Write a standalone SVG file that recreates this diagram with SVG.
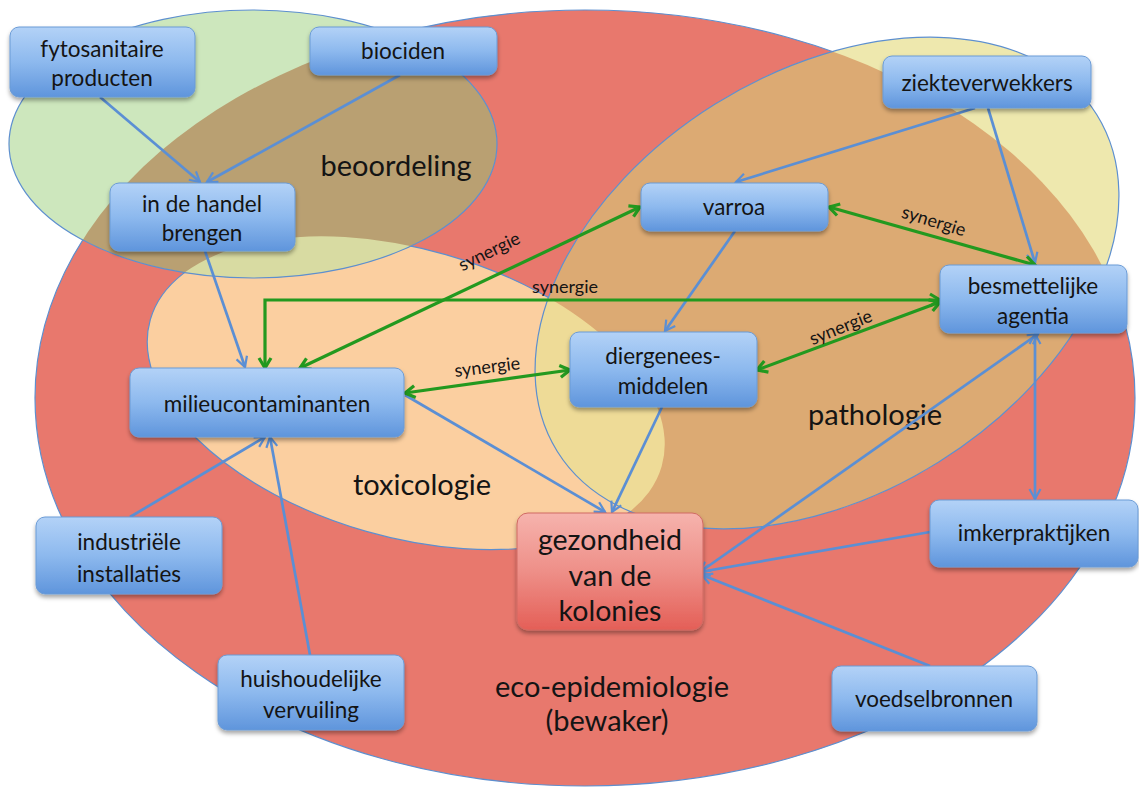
<svg xmlns="http://www.w3.org/2000/svg" width="1139" height="789" viewBox="0 0 1139 789">
<style>
.n rect{fill:url(#gb);stroke:#6b9bd6;stroke-width:1;filter:url(#sh)}
.n text,.lab,.syn{font-family:Lato,"Open Sans",sans-serif;fill:#141414;text-anchor:middle}
.n text{font-size:22.5px}
.lab{font-size:29px}
.syn{font-size:18px}
.ell{stroke:#5d8fcf;stroke-width:1.2}
.bl{stroke:#5b8fd4;stroke-width:2.7;fill:none;marker-end:url(#ab)}
.bl2{marker-start:url(#ab)}
.gr{stroke:#23991f;stroke-width:3.2;fill:none;marker-end:url(#ag);marker-start:url(#ag)}
</style>
<defs>
<linearGradient id="gb" x1="0" y1="0" x2="0" y2="1">
<stop offset="0" stop-color="#b3d2f7"/><stop offset="0.5" stop-color="#8db9ee"/><stop offset="1" stop-color="#5f95dc"/>
</linearGradient>
<linearGradient id="gr" x1="0" y1="0" x2="0" y2="1">
<stop offset="0" stop-color="#f6b3ad"/><stop offset="0.5" stop-color="#ee8f88"/><stop offset="1" stop-color="#e45f57"/>
</linearGradient>
<filter id="sh" x="-10%" y="-10%" width="120%" height="130%">
<feDropShadow dx="0" dy="3" stdDeviation="2" flood-color="#000" flood-opacity="0.35"/>
</filter>
<clipPath id="cRed"><ellipse cx="585" cy="398" rx="550" ry="388"/></clipPath>
<clipPath id="cTox"><ellipse cx="406" cy="393" rx="266" ry="144" transform="rotate(16 406 393)"/></clipPath>
<marker id="ab" viewBox="0 0 14 14" refX="12" refY="7" markerWidth="14" markerHeight="14" markerUnits="userSpaceOnUse" orient="auto-start-reverse">
<path d="M2,1.5 L12,7 L2,12.5" fill="none" stroke="#5b8fd4" stroke-width="2.2"/>
</marker>
<marker id="ag" viewBox="0 0 16 16" refX="13" refY="8" markerWidth="16" markerHeight="16" markerUnits="userSpaceOnUse" orient="auto-start-reverse">
<path d="M3,2 L13,8 L3,14" fill="none" stroke="#23991f" stroke-width="3.2"/>
</marker>
</defs>
<rect width="1139" height="789" fill="#ffffff"/>

<g id="areas">
<ellipse class="ell" cx="585" cy="398" rx="550" ry="388" fill="#e8786d"/>
<ellipse class="ell" cx="406" cy="393" rx="266" ry="144" transform="rotate(16 406 393)" fill="#fbcfa0"/>
<ellipse cx="253" cy="144" rx="244" ry="134" fill="#cde7bd"/>
<ellipse cx="253" cy="144" rx="244" ry="134" fill="#b9a072" clip-path="url(#cRed)"/>
<ellipse cx="253" cy="144" rx="244" ry="134" fill="#d8dba2" clip-path="url(#cTox)"/>
<ellipse class="ell" cx="253" cy="144" rx="244" ry="134" fill="none"/>
<ellipse cx="827" cy="283" rx="318" ry="211" transform="rotate(-32 827 283)" fill="#eee8ae"/>
<g clip-path="url(#cRed)"><ellipse cx="827" cy="283" rx="318" ry="211" transform="rotate(-32 827 283)" fill="#dcaa73"/></g>
<g clip-path="url(#cTox)"><ellipse cx="827" cy="283" rx="318" ry="211" transform="rotate(-32 827 283)" fill="#eedb97"/></g>
<ellipse class="ell" cx="827" cy="283" rx="318" ry="211" transform="rotate(-32 827 283)" fill="none"/>
<text class="lab" x="396" y="176">beoordeling</text>
<text class="lab" x="422" y="495">toxicologie</text>
<text class="lab" x="875" y="425">pathologie</text>
<text class="lab" x="612" y="697">eco-epidemiologie</text>
<text class="lab" x="607" y="731">(bewaker)</text>
</g>

<g id="connectors">
<line class="bl" x1="100" y1="97" x2="200" y2="182"/>
<line class="bl" x1="400" y1="75" x2="207" y2="182"/>
<line class="bl" x1="205" y1="251" x2="245" y2="367"/>
<line class="bl" x1="975" y1="108" x2="736" y2="182"/>
<line class="bl" x1="988" y1="108" x2="1035" y2="263"/>
<line class="bl" x1="735" y1="231" x2="665" y2="331"/>
<line class="bl" x1="662" y1="407" x2="612" y2="512"/>
<line class="bl" x1="405" y1="395" x2="605" y2="512"/>
<line class="bl bl2" x1="700" y1="572" x2="1038" y2="334"/>
<line class="bl bl2" x1="1035" y1="334" x2="1035" y2="499"/>
<line class="bl" x1="930" y1="532" x2="700" y2="572"/>
<line class="bl" x1="930" y1="666" x2="702" y2="575"/>
<line class="bl" x1="130" y1="517" x2="265" y2="437"/>
<line class="bl" x1="310" y1="655" x2="270" y2="437"/>
<line class="gr" x1="300" y1="368" x2="640" y2="207"/>
<polyline class="gr" points="265,368 265,300 940,300"/>
<line class="gr" x1="405" y1="393" x2="570" y2="370"/>
<line class="gr" x1="829" y1="207" x2="1035" y2="265"/>
<line class="gr" x1="757" y1="370" x2="940" y2="302"/>
<text class="syn" transform="translate(492 257) rotate(-26)">synergie</text>
<text class="syn" x="565" y="293">synergie</text>
<text class="syn" transform="translate(488 373) rotate(-7)">synergie</text>
<text class="syn" transform="translate(932 227) rotate(17)">synergie</text>
<text class="syn" transform="translate(843 333) rotate(-22)">synergie</text>
</g>

<g id="n-fyto" class="n"><rect x="10" y="27" width="185" height="70" rx="9"/><text x="102" y="57">fytosanitaire</text><text x="102" y="86">producten</text></g>
<g id="n-bio" class="n"><rect x="310" y="27" width="187" height="48" rx="9"/><text x="403" y="59">biociden</text></g>
<g id="n-handel" class="n"><rect x="110" y="183" width="185" height="68" rx="9"/><text x="202" y="212">in de handel</text><text x="202" y="241">brengen</text></g>
<g id="n-ziekte" class="n"><rect x="883" y="56" width="208" height="52" rx="9"/><text x="987" y="91">ziekteverwekkers</text></g>
<g id="n-varroa" class="n"><rect x="641" y="183" width="187" height="48" rx="9"/><text x="734" y="215">varroa</text></g>
<g id="n-besm" class="n"><rect x="940" y="265" width="187" height="68" rx="9"/><text x="1033" y="294">besmettelijke</text><text x="1033" y="324">agentia</text></g>
<g id="n-dier" class="n"><rect x="570" y="332" width="187" height="75" rx="9"/><text x="663" y="364">diergenees-</text><text x="663" y="394">middelen</text></g>
<g id="n-milieu" class="n"><rect x="130" y="368" width="274" height="69" rx="9"/><text x="267" y="412">milieucontaminanten</text></g>
<g id="n-ind" class="n"><rect x="36" y="517" width="186" height="77" rx="9"/><text x="129" y="550">industriële</text><text x="129" y="582">installaties</text></g>
<g id="n-huis" class="n"><rect x="218" y="655" width="186" height="75" rx="9"/><text x="311" y="687">huishoudelijke</text><text x="311" y="718">vervuiling</text></g>
<g id="n-imker" class="n"><rect x="930" y="500" width="208" height="67" rx="9"/><text x="1034" y="541">imkerpraktijken</text></g>
<g id="n-voedsel" class="n"><rect x="832" y="666" width="205" height="65" rx="9"/><text x="934" y="707">voedselbronnen</text></g>
<g id="n-gezond" class="n"><rect x="517" y="513" width="186" height="117" rx="11" style="fill:url(#gr);stroke:#d06a63"/><text x="610" y="550" style="font-size:28.5px">gezondheid</text><text x="610" y="586" style="font-size:28.5px">van de</text><text x="610" y="621" style="font-size:28.5px">kolonies</text></g>
</svg>
